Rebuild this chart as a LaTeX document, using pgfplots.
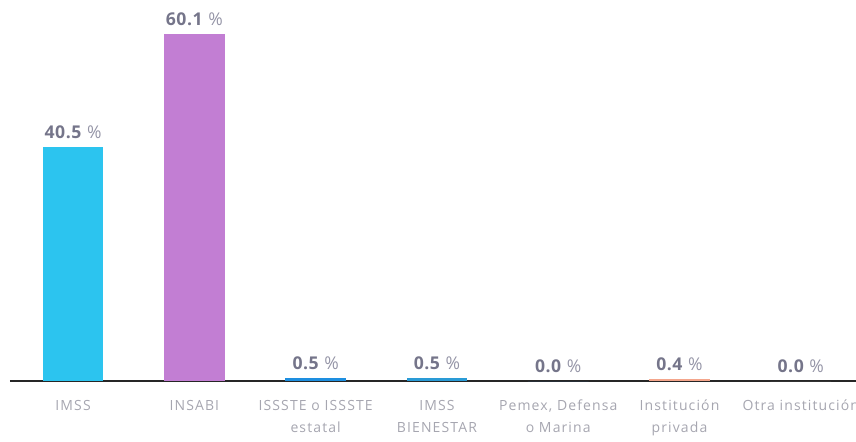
\documentclass[border=0pt]{standalone}
\usepackage{fontspec}
\setmainfont{Open Sans}
\newfontfamily\tickfont[LetterSpace=8]{Open Sans}
\newfontfamily\valfont[LetterSpace=3]{Open Sans}
\usepackage{pgfplots}
\pgfplotsset{compat=1.18}
\definecolor{cImss}{HTML}{2CC4EF}
\definecolor{cInsabi}{HTML}{C27ED3}
\definecolor{cIssste}{HTML}{1E8FE0}
\definecolor{cBien}{HTML}{2A9BD6}
\definecolor{cPemex}{HTML}{3A6FB0}
\definecolor{cPriv}{HTML}{F4A68C}
\definecolor{cOtra}{HTML}{888888}
\definecolor{valgray}{HTML}{75758A}
\definecolor{pctgray}{HTML}{9494A6}
\definecolor{tickgray}{HTML}{A6A6B0}
\begin{document}
\begin{tikzpicture}[x=1pt,y=1pt]
\begin{axis}[
  at={(0,0)}, anchor=south west,
  scale only axis, width=423pt, height=190.5pt,
  xmin=-0.52, xmax=6.455, ymin=0, ymax=65.9,
  axis x line*=bottom, axis y line=none,
  x axis line style={draw=none,-},
  major tick length=0pt,
  ytick=\empty,
  xtick={0,1,2,3,4,5,6},
  xticklabels={IMSS, INSABI, {ISSSTE o ISSSTE\\estatal}, {IMSS\\BIENESTAR}, {Pemex, Defensa\\o Marina}, {Institución\\privada}, {Otra institución}},
  xticklabel style={font=\tickfont\fontsize{7}{11}\selectfont, text=tickgray, align=center, anchor=north, yshift=-6pt},
  clip=false,
  /pgf/number format/assume math mode=true,
  every axis plot/.append style={bar shift=0pt, bar width=0.5, draw=none},
  nodes near coords={\textbf{\pgfmathprintnumber[fixed,precision=1,fixed zerofill]{\pgfplotspointmeta}}\ {\color{pctgray}\fontsize{8.8}{9}\selectfont\%}},
  every node near coord/.append style={font=\valfont\fontsize{8.8}{10}\selectfont, text=valgray, anchor=south, yshift=0.5pt},
]
\addplot[draw=black!85, line width=1pt, nodes near coords={}, forget plot] coordinates {(-0.52,0) (6.455,0)};
\addplot[ybar, fill=cImss] coordinates {(0,40.5)};
\addplot[ybar, fill=cInsabi] coordinates {(1,60.1)};
\addplot[ybar, fill=cIssste] coordinates {(2,0.5)};
\addplot[ybar, fill=cBien] coordinates {(3,0.5)};
\addplot[ybar, fill=cPemex] coordinates {(4,0.0)};
\addplot[ybar, fill=cPriv] coordinates {(5,0.4)};
\addplot[ybar, fill=cOtra] coordinates {(6,0.0)};
\end{axis}
\pgfresetboundingbox
\path[use as bounding box] (-5pt,-30pt) rectangle (423pt,190.5pt);
\end{tikzpicture}
\end{document}
